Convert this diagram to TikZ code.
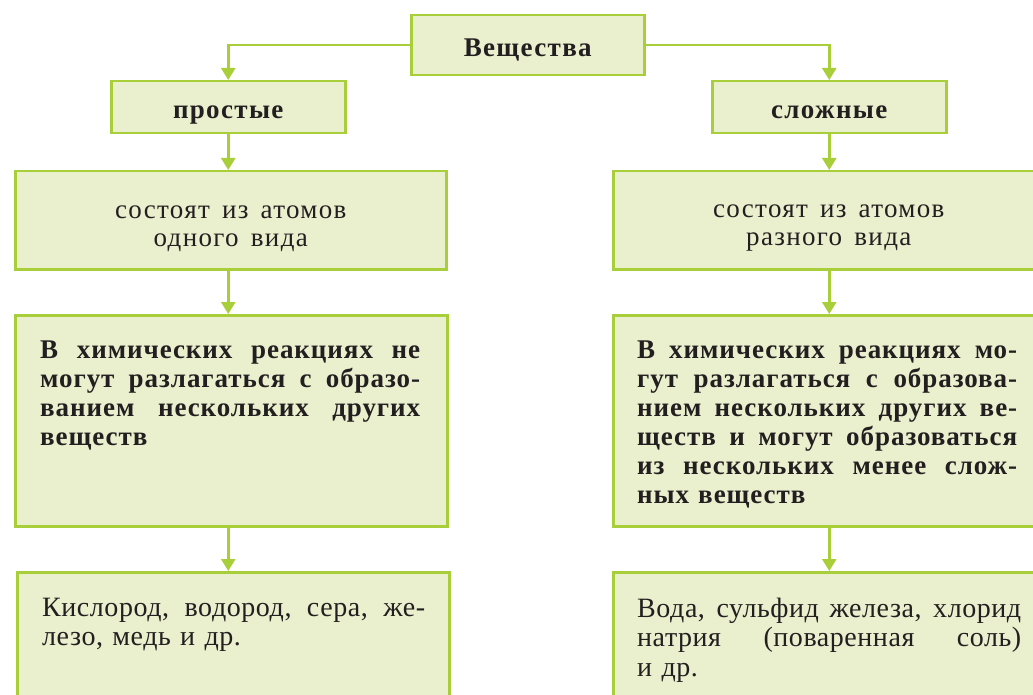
\documentclass[tikz,border=0pt]{standalone}
\usepackage{fontspec}
\setmainfont{Liberation Serif}
\newfontfamily\headserif[LetterSpace=5]{Liberation Serif}
\newfontfamily\wideserif[LetterSpace=5,WordSpace=1.5]{Liberation Serif}
\newfontfamily\boldserif[LetterSpace=3.5,WordSpace=1.3]{Liberation Serif}
\newfontfamily\listserif[LetterSpace=2]{Liberation Serif}
\usetikzlibrary{arrows.meta,calc}
\definecolor{color_box_line}{HTML}{A8CF3A}
\definecolor{color_box_fill}{HTML}{EAEFCD}
\definecolor{color_text}{HTML}{231F20}
\newlength{\jw}
\setlength{\jw}{380pt}
% one justified line
\newcommand{\jline}[2][\jw]{\leavevmode\hbox to #1{\spaceskip=\fontdimen2\font plus 1fil minus \fontdimen4\font\relax #2}}

\begin{document}
\begin{tikzpicture}[x=1pt,y=-1pt,
		every node/.style={text=color_text},
		box/.style={draw=color_box_line,fill=color_box_fill,line width=2.5pt,
			inner sep=0pt,anchor=north west},
		head/.style={font=\headserif\bfseries\fontsize{27}{29}\selectfont,
			text height=22pt,text depth=0pt},
		link/.style={draw=color_box_line,line width=2.5pt,
			-{Triangle[length=12pt,width=14pt]}}]
		\useasboundingbox (0,0) rectangle (1033,695);
		% Heads
		\node[box,head,minimum width=233pt,minimum height=60pt] (top) at (410,14) {Вещества};
		\node[box,head,minimum width=234pt,minimum height=52pt] (simple) at (110,80) {простые};
		\node[box,head,minimum width=234pt,minimum height=52pt] (complex) at (711,80) {сложные};

		% Boxes, left column
		\node[box,minimum width=431pt,minimum height=98pt] (l2) at (14,170) {};
		\node[box,minimum width=432pt,minimum height=211pt] (l3) at (14,314) {};
		\node[box,minimum width=432pt,minimum height=140pt] (l4) at (16,571) {};
		% Boxes, right column
		\node[box,minimum width=431pt,minimum height=98pt] (r2) at (612,170) {};
		\node[box,minimum width=431pt,minimum height=211pt] (r3) at (612,314) {};
		\node[box,minimum width=431pt,minimum height=140pt] (r4) at (612,571) {};

		% Texts
		\node[align=center,font=\wideserif\fontsize{27}{28}\selectfont] (l2t) at ($(l2.center)+(0,8)$)
			{состоят из атомов\\одного вида};
		\node[align=center,font=\wideserif\fontsize{27}{28}\selectfont] (r2t) at ($(r2.center)+(0,8)$)
			{состоят из атомов\\разного вида};
		\node[anchor=north west,inner sep=0pt,text width=\jw,
			font=\boldserif\bfseries\fontsize{27}{29}\selectfont] (l3t) at ($(l3.north west)+(26,27)$)
			{\jline{В химических реакциях не}\\
			 \jline{могут разлагаться с образо-}\\
			 \jline{ванием нескольких других}\\
			 веществ};
		\node[anchor=north west,inner sep=0pt,text width=\jw,
			font=\boldserif\bfseries\fontsize{27}{29}\selectfont] (r3t) at ($(r3.north west)+(25,27)$)
			{\jline{В химических реакциях мо-}\\
			 \jline{гут разлагаться с образова-}\\
			 \jline{нием нескольких других ве-}\\
			 \jline{ществ и могут образоваться}\\
			 \jline{из нескольких менее слож-}\\
			 ных веществ};
		\node[anchor=north west,inner sep=0pt,text width=390pt,
			font=\listserif\fontsize{28}{29.5}\selectfont] (l4t) at ($(l4.north west)+(26,26.5)$)
			{\jline[383pt]{Кислород, водород, сера, же-}\\
			 лезо, медь и др.};
		\node[anchor=north west,inner sep=0pt,text width=384pt,
			font=\listserif\fontsize{28}{29.5}\selectfont] (r4t) at ($(r4.north west)+(25,26.5)$)
			{\jline[384pt]{Вода, сульфид железа, хлорид}\\
			 \jline[384pt]{натрия (поваренная соль)}\\
			 и др.};

		% Arrows
		\draw[link] (top.west) -| (simple.north);
		\draw[link] (top.east) -| (complex.north);
		\draw[link] (simple.south) -- (simple.south |- l2.north);
		\draw[link] (l2.south -| simple.south) -- (l3.north -| simple.south);
		\draw[link] (l3.south -| simple.south) -- (l4.north -| simple.south);
		\draw[link] (complex.south) -- (complex.south |- r2.north);
		\draw[link] (r2.south -| complex.south) -- (r3.north -| complex.south);
		\draw[link] (r3.south -| complex.south) -- (r4.north -| complex.south);
\end{tikzpicture}
\end{document}
